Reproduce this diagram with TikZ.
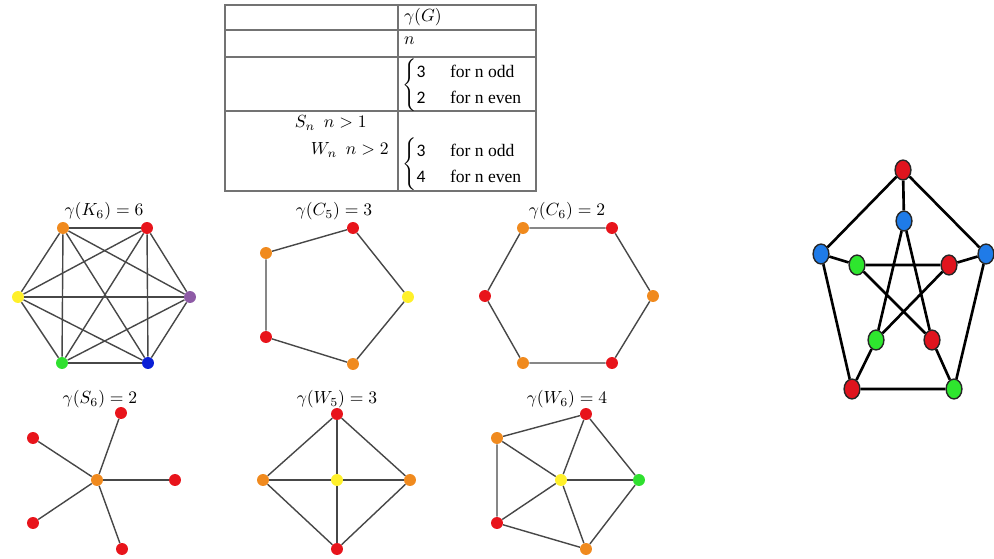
\documentclass[tikz,border=0pt]{standalone}
\usepackage{fontspec}
\setmainfont{Liberation Serif}
\newfontfamily\digitfont{Carlito}
\usepackage{amsmath}
\usetikzlibrary{shapes.geometric}
\definecolor{vred}{HTML}{E8141B}
\definecolor{vorange}{HTML}{F08A1E}
\definecolor{vyellow}{HTML}{FFF02A}
\definecolor{vpurple}{HTML}{8E5BA6}
\definecolor{vgreen}{HTML}{2FE02F}
\definecolor{vblue}{HTML}{0A1FD6}
\definecolor{pred}{HTML}{E0141E}
\definecolor{pblue}{HTML}{1F7BE8}
\definecolor{pgreen}{HTML}{2EE62E}
\newcommand{\dg}[1]{\text{\digitfont #1}}

\begin{document}
\begin{tikzpicture}[x=0.02cm,y=-0.02cm,
  vtx/.style={circle,inner sep=0pt,minimum size=6.8pt},
  edge/.style={line width=0.8pt,black!72},
  pvtx/.style={ellipse,draw=black!85,line width=0.8pt,inner sep=0pt,minimum width=9pt,minimum height=11.3pt},
  pedge/.style={line width=1.5pt,black},
  title/.style={font=\normalsize,inner sep=1pt},
  cases/.style={anchor=west,inner sep=0pt,execute at begin node={\delimiterfactor=780\relax}},
  rule/.style={line width=0.6pt,black!55}]
\useasboundingbox (0,0) rectangle (994,558);
%%%%%%%%%%%%%%%%%%%% the table %%%%%%%%%%%%%%%%%%%%
\draw[rule] (225,5) rectangle (536,191);
\draw[rule] (398,5) -- (398,191);
\draw[rule] (225,30) -- (536,30);
\draw[rule] (225,57) -- (536,57);
\draw[rule] (225,111) -- (536,111);
\node[anchor=west,inner sep=1pt] (tg) at (402,17) {$\gamma(G)$};
\node[anchor=west,inner sep=1pt] (tn) at (402,41) {$n$};
\node[cases] (tc) at (402,85)
  {$\renewcommand{\arraystretch}{1.22}\left\{\begin{array}{@{}l@{\hspace{14pt}}l}\dg{3} & \text{for n odd}\\ \dg{2} & \text{for n even}\end{array}\right.$};
\node[anchor=east,inner sep=0pt] (ts) at (367,123) {$S_n\ \ n>1$};
\node[anchor=east,inner sep=0pt] (tw) at (389,150) {$W_n\ \ n>2$};
\node[cases] (tt) at (402,164)
  {$\renewcommand{\arraystretch}{1.22}\left\{\begin{array}{@{}l@{\hspace{14pt}}l}\dg{3} & \text{for n odd}\\ \dg{4} & \text{for n even}\end{array}\right.$};
%%%%%%%%%%%%%%%%%%%% the complete graph $K_6$ %%%%%%%%%%%%%%%%%%%%
\node[title] (tk) at (104,211) {$\gamma(K_6)=6$};
\node[vtx,fill=vorange] (k1) at (63,228) {};
\node[vtx,fill=vred] (k2) at (147,228) {};
\node[vtx,fill=vpurple] (k3) at (190,297) {};
\node[vtx,fill=vblue] (k4) at (148,363) {};
\node[vtx,fill=vgreen] (k5) at (62,363) {};
\node[vtx,fill=vyellow] (k6) at (18,297) {};
\foreach \i in {1,...,5}{
  \pgfmathtruncatemacro\nxt{\i+1}
  \foreach \j in {\nxt,...,6} \draw[edge] (k\i) -- (k\j);
}
%%%%%%%%%%%%%%%%%%%% the cycle $C_5$ %%%%%%%%%%%%%%%%%%%%
\node[title] (tc5) at (334,211) {$\gamma(C_5)=3$};
\node[vtx,fill=vred] (c1) at (353,228) {};
\node[vtx,fill=vyellow] (c2) at (408,297) {};
\node[vtx,fill=vorange] (c3) at (353,364) {};
\node[vtx,fill=vred] (c4) at (266,337) {};
\node[vtx,fill=vorange] (c5) at (266,253) {};
\draw[edge] (c1) -- (c2) -- (c3) -- (c4) -- (c5) -- (c1);
%%%%%%%%%%%%%%%%%%%% the cycle $C_6$ %%%%%%%%%%%%%%%%%%%%
\node[title] (tc6) at (567,211) {$\gamma(C_6)=2$};
\node[vtx,fill=vorange] (h1) at (523,228) {};
\node[vtx,fill=vred] (h2) at (612,228) {};
\node[vtx,fill=vorange] (h3) at (653,296) {};
\node[vtx,fill=vred] (h4) at (612,363) {};
\node[vtx,fill=vorange] (h5) at (523,363) {};
\node[vtx,fill=vred] (h6) at (485,296) {};
\draw[edge] (h1) -- (h2) -- (h3) -- (h4) -- (h5) -- (h6) -- (h1);
%%%%%%%%%%%%%%%%%%%% the star $S_6$ %%%%%%%%%%%%%%%%%%%%
\node[title] (ts6) at (100,399) {$\gamma(S_6)=2$};
\node[vtx,fill=vorange] (s0) at (97,480) {};
\node[vtx,fill=vred] (s1) at (121,413) {};
\node[vtx,fill=vred] (s2) at (175,480) {};
\node[vtx,fill=vred] (s3) at (122,549) {};
\node[vtx,fill=vred] (s4) at (33,523) {};
\node[vtx,fill=vred] (s5) at (33,438) {};
\foreach \i in {1,...,5} \draw[edge] (s0) -- (s\i);
%%%%%%%%%%%%%%%%%%%% the wheel $W_5$ %%%%%%%%%%%%%%%%%%%%
\node[title] (tw5) at (337,399) {$\gamma(W_5)=3$};
\node[vtx,fill=vyellow] (w0) at (337,480) {};
\node[vtx,fill=vred] (w1) at (337,414) {};
\node[vtx,fill=vorange] (w2) at (410,480) {};
\node[vtx,fill=vred] (w3) at (337,549) {};
\node[vtx,fill=vorange] (w4) at (263,480) {};
\draw[edge] (w1) -- (w2) -- (w3) -- (w4) -- (w1);
\foreach \i in {1,...,4} \draw[edge] (w0) -- (w\i);
%%%%%%%%%%%%%%%%%%%% the wheel $W_6$ %%%%%%%%%%%%%%%%%%%%
\node[title] (tw6) at (567,399) {$\gamma(W_6)=4$};
\node[vtx,fill=vyellow] (u0) at (561,480) {};
\node[vtx,fill=vred] (u1) at (586,414) {};
\node[vtx,fill=vgreen] (u2) at (639,480) {};
\node[vtx,fill=vorange] (u3) at (586,549) {};
\node[vtx,fill=vred] (u4) at (497,523) {};
\node[vtx,fill=vorange] (u5) at (497,438) {};
\draw[edge] (u1) -- (u2) -- (u3) -- (u4) -- (u5) -- (u1);
\foreach \i in {1,...,5} \draw[edge] (u0) -- (u\i);
%%%%%%%%%%%%%%%%%%%% the Petersen graph %%%%%%%%%%%%%%%%%%%%
\node[pvtx,fill=pred] (p1) at (903,170) {};
\node[pvtx,fill=pblue] (p2) at (986,254) {};
\node[pvtx,fill=pgreen] (p3) at (954,389) {};
\node[pvtx,fill=pred] (p4) at (852,389) {};
\node[pvtx,fill=pblue] (p5) at (821,254) {};
\node[pvtx,fill=pblue] (q1) at (904,221) {};
\node[pvtx,fill=pred] (q2) at (949,265) {};
\node[pvtx,fill=pred] (q3) at (932,340) {};
\node[pvtx,fill=pgreen] (q4) at (876,340) {};
\node[pvtx,fill=pgreen] (q5) at (857,265) {};
\draw[pedge] (p1) -- (p2) -- (p3) -- (p4) -- (p5) -- (p1);
\foreach \i in {1,...,5} \draw[pedge] (p\i) -- (q\i);
\draw[pedge] (q1) -- (q3) -- (q5) -- (q2) -- (q4) -- (q1);
\end{tikzpicture}
\end{document}
